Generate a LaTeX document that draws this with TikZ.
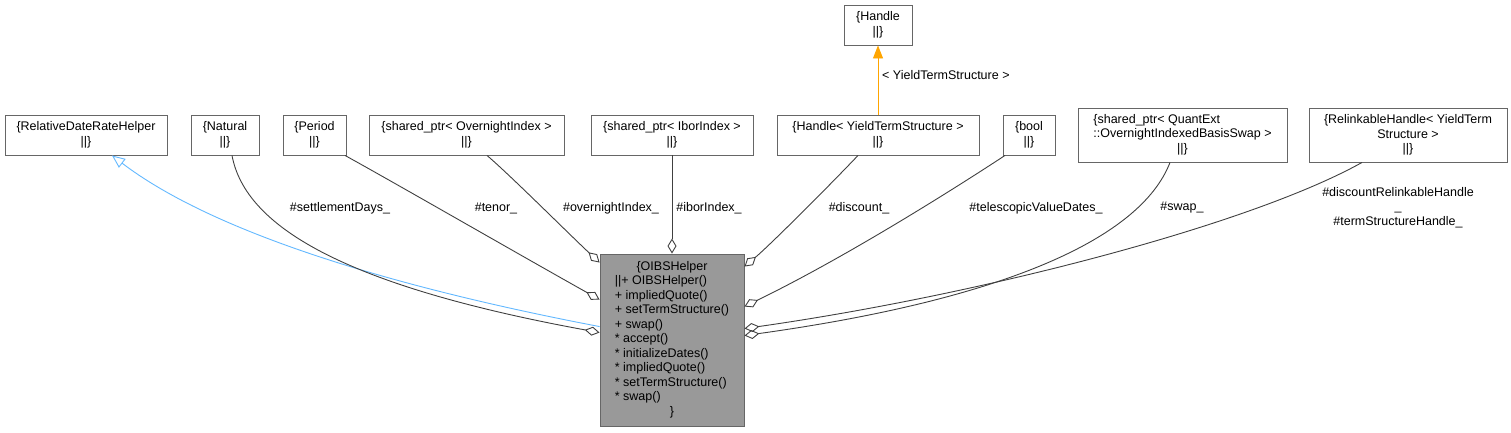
\documentclass[tikz,border=0pt]{standalone}
\usepackage{fontspec}
\setmainfont{Liberation Sans}
\usetikzlibrary{arrows.meta,calc}
\definecolor{edgegray}{HTML}{404040}
\definecolor{boxgray}{HTML}{666666}
\definecolor{fillgray}{HTML}{999999}
\definecolor{inhblue}{HTML}{63B8FF}
\definecolor{tmplorange}{HTML}{FFA500}
\newcommand{\dfont}{\fontsize{12.5bp}{14.5bp}\selectfont}
\begin{document}
\begin{tikzpicture}[x=1bp,y=-1bp,
  cls/.style={draw=boxgray, line width=0.9bp, fill=white, inner sep=0pt, align=center, font=\dfont},
  mainbox/.style={cls, fill=fillgray},
  lbl/.style={inner sep=0pt, font=\dfont, align=center},
  assoc/.style={draw=edgegray, line width=0.9bp, -{Diamond[open,length=15bp,width=9bp]}},
  inh/.style={draw=inhblue, line width=0.9bp, {Triangle[open,length=13bp,width=11bp]}-},
  tmpl/.style={draw=tmplorange, line width=0.9bp, -{Triangle[length=13bp,width=10bp]}}
]
\useasboundingbox (0,0) rectangle (1511,432);

% top template class
\node[cls, minimum width=68bp, minimum height=40bp] (handle) at (878,25) {\{Handle\\||\}};

% member / base classes
\node[cls, minimum width=162bp, minimum height=40bp] (rdrh) at (86,135) {\{RelativeDateRateHelper\\||\}};
\node[cls, minimum width=68bp, minimum height=40bp] (natural) at (225,135) {\{Natural\\||\}};
\node[cls, minimum width=63bp, minimum height=40bp] (period) at (314.5,135) {\{Period\\||\}};
\node[cls, minimum width=195bp, minimum height=40bp] (ovidx) at (466.5,135) {\{shared\_ptr< OvernightIndex >\\||\}};
\node[cls, minimum width=162bp, minimum height=40bp] (ibor) at (672,135) {\{shared\_ptr< IborIndex >\\||\}};
\node[cls, minimum width=202bp, minimum height=40bp] (hyts) at (878,135) {\{Handle< YieldTermStructure >\\||\}};
\node[cls, minimum width=52bp, minimum height=40bp] (bool) at (1029,135) {\{bool\\||\}};
\node[cls, minimum width=209bp, minimum height=54bp] (qext) at (1182.5,135) {\begin{tabular}{@{}l@{}}\{shared\_ptr< QuantExt\\::OvernightIndexedBasisSwap >\\\multicolumn{1}{@{}c@{}}{||\}}\end{tabular}};
\node[cls, minimum width=198bp, minimum height=54bp] (relink) at (1408,135) {\{RelinkableHandle< YieldTerm\\Structure >\\||\}};

% main class
\node[mainbox, minimum width=144bp, minimum height=172bp] (oibs) at (672,340) {\begin{tabular}{@{}l@{}}\multicolumn{1}{@{}c@{}}{\{OIBSHelper}\\
||+ OIBSHelper()\\
+ impliedQuote()\\
+ setTermStructure()\\
+ swap()\\
{}* accept()\\
{}* initializeDates()\\
{}* impliedQuote()\\
{}* setTermStructure()\\
{}* swap()\\
\multicolumn{1}{@{}c@{}}{\}}\end{tabular}};

% template instantiation
\draw[tmpl] (hyts.north) -- (handle.south);
\node[lbl, anchor=west] (tlabel) at (882,75) {< YieldTermStructure >};

% inheritance
\draw[inh] ($(rdrh.south)+(26,0)$) .. controls (190,215) and (330,275) .. ($(oibs.north west)+(0,73)$);

% associations
\draw[assoc] ($(natural.south)+(7,0)$) .. controls (245,225) and (340,285) .. ($(oibs.north west)+(0,79)$);
\draw[assoc] ($(period.south)+(30.5,0)$) .. controls (395,183) and (520,255) .. ($(oibs.north west)+(0,46)$);
\draw[assoc] ($(ovidx.south)+(20.5,0)$) .. controls (510,175) and (570,235) .. ($(oibs.north west)+(0,9)$);
\draw[assoc] (ibor.south) -- (oibs.north);
\draw[assoc] ($(hyts.south)+(-20,0)$) .. controls (830,185) and (770,245) .. ($(oibs.north east)+(0,13)$);
\draw[assoc] ($(bool.south)+(-24,0)$) .. controls (960,185) and (850,255) .. ($(oibs.north east)+(0,53)$);
\draw[assoc] ($(qext.south)+(-12.5,0)$) .. controls (1140,240) and (1000,300) .. ($(oibs.north east)+(0,82)$);
\draw[assoc] ($(relink.south)+(-46,0)$) .. controls (1250,225) and (980,295) .. ($(oibs.north east)+(0,75)$);

% edge labels
\node[lbl] (l1) at (340,208) {\#settlementDays\_};
\node[lbl] (l2) at (496,208) {\#tenor\_};
\node[lbl] (l3) at (611,208) {\#overnightIndex\_};
\node[lbl] (l4) at (709,208) {\#iborIndex\_};
\node[lbl] (l5) at (859,208) {\#discount\_};
\node[lbl] (l6) at (1036,208) {\#telescopicValueDates\_};
\node[lbl] (l7) at (1182,208) {\#swap\_};
\node[lbl] (l8) at (1398,207.5) {\#discountRelinkableHandle\\\_\\\#termStructureHandle\_};
\end{tikzpicture}
\end{document}
